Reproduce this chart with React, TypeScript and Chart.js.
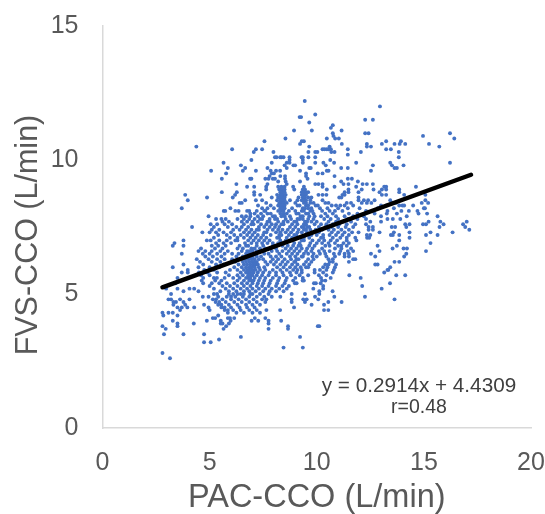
import React, { useEffect, useRef } from "react";
import { Chart, registerables } from "chart.js";

Chart.register(...registerables);

const SANS = '"Liberation Sans", Arial, sans-serif';
const equationLines = ["y = 0.2914x + 4.4309", "r=0.48"];
const xTitle = "PAC-CCO (L/min)";
const yTitle = "FVS-CCO (L/min)";
const trendX = [2.8, 17.2];
const trendY = [5.25, 9.45];

type Row = [number, number[]];

const bandTop: Row[] = [
  [12.2, [9.44]], [12.0, [12.95]], [11.7, [9.93]], [11.6, [9.2, 9.27]], [11.5, [12.26, 12.62]], [11.4, [9.65]],
  [11.3, [10.75]], [11.2, [10.66]], [11.1, [8.94, 9.77, 11.16]], [11.0, [10.75, 12.26, 12.42, 16.22]],
  [10.9, [10.78, 14.96]], [10.8, [8.54, 10.47, 10.86, 11.03, 16.42]], [10.7, [7.56, 9.3, 9.4, 13.24, 13.93]],
  [10.6, [9.22, 11.17, 12.34, 13.04, 13.63, 13.87, 14.13, 15.24]], [10.5, [4.38, 9.65, 10.6, 12.34, 12.53, 15.72]],
  [10.4, [6.05, 7.16, 7.45, 10.27, 10.36, 10.47, 10.55, 10.66, 11.45, 13.24, 13.46]],
  [10.3, [7.06, 7.98, 9.61, 9.93, 10.03, 10.68, 10.83, 12.06, 13.83]], [10.2, [11.45]],
  [10.1, [8.05, 8.12, 8.29, 8.35, 8.45, 8.73, 9.29, 9.35, 9.61, 9.93, 13.83]], [10.0, [6.95, 8.73, 9.35, 10.63]],
  [9.9, [5.65, 7.9, 8.6, 8.73, 9.35, 9.93, 10.31, 10.81, 11.84, 13.43, 16.22]],
  [9.8, [6.46, 8.5, 8.91, 8.99, 10.42, 12.62, 13.51, 14.05]],
  [9.7, [5.85, 6.66, 7.7, 8.6, 9.65, 9.72, 11.14, 11.45, 13.63, 13.74]],
  [9.6, [5.07, 6.55, 7.16, 7.85, 8.1, 8.29, 9.22, 10.47, 10.55, 12.53]], [9.5, [5.77, 7.9, 8.0, 9.5, 10.05, 10.27]],
  [9.4, [7.8, 8.3, 8.52, 9.5, 10.83]], [9.3, [5.57, 6.89, 6.95, 7.6, 7.75, 7.95, 8.05, 8.52, 9.57, 11.45, 11.64]],
  [9.2, [8.2, 8.55, 9.22, 11.14, 11.92]],
];

const bandUpper: Row[] = [
  [9.1, [6.25, 7.7, 8.6, 9.93, 10.08, 10.27, 11.25, 11.48, 12.14, 12.34, 12.62]],
  [9.0, [6.75, 7.08, 7.64, 8.2, 8.35, 8.5, 8.9, 9.4, 10.27, 10.83, 11.84, 13.15, 13.24, 14.63]],
  [8.9, [7.64, 8.25, 8.35, 8.5, 8.95, 9.35, 9.45, 10.47, 11.48, 12.1, 12.65, 13.04, 13.24, 13.85]],
  [8.8, [5.57, 6.27, 7.08, 8.3, 8.4, 8.5, 9.3, 9.4, 9.5, 9.6, 11.3, 11.48, 11.95, 12.93, 13.85]],
  [8.7, [3.86, 6.19, 7.08, 7.36, 8.15, 8.3, 8.4, 8.55, 9.3, 9.4, 9.5, 10.08, 10.27, 10.45, 11.2, 11.3, 13.04, 13.24, 14.08, 15.07]],
  [8.6, [4.88, 6.08, 7.9, 8.2, 8.3, 8.4, 8.5, 9.15, 9.35, 9.45, 9.6, 9.75, 11.05, 11.15, 11.95]],
  [8.5, [3.98, 6.66, 7.16, 7.45, 8.15, 8.3, 8.4, 8.5, 8.75, 9.1, 9.3, 9.4, 9.5, 9.7, 10.27, 11.95, 12.2, 12.4, 12.7, 13.43, 15.07]],
  [8.4, [6.4, 6.5, 7.64, 8.25, 8.35, 8.45, 8.6, 9.0, 9.4, 9.5, 9.7, 9.85, 10.4, 10.55, 11.4, 11.6, 12.1, 12.34, 12.55, 13.5, 13.7, 14.9, 15.2]],
  [8.3, [7.26, 7.85, 8.2, 8.3, 8.4, 8.5, 9.1, 9.2, 9.5, 9.6, 9.95, 10.05, 10.7, 10.9, 11.1, 11.3, 11.7, 13.0, 13.25, 13.85, 14.0, 14.08, 14.5]],
  [8.2, [3.7, 5.97, 7.45, 7.7, 8.0, 8.3, 8.4, 8.5, 8.85, 9.35, 9.45, 9.6, 9.75, 10.15, 10.5, 11.0, 11.45, 12.0, 12.85, 13.6, 15.0, 15.05]],
  [8.1, [5.66, 5.73, 6.2, 6.35, 6.75, 6.85, 7.2, 7.55, 7.6, 8.2, 8.35, 8.45, 8.7, 9.0, 9.3, 9.4, 9.7, 9.8, 10.25, 10.6, 10.85, 11.2, 12.3, 13.3, 13.95, 14.3, 14.7]],
  [8.0, [6.9, 7.1, 7.4, 7.7, 7.85, 8.3, 8.45, 8.6, 9.05, 9.15, 9.5, 9.6, 9.85, 10.4, 10.75, 11.5, 11.9, 12.7, 13.27, 13.74, 14.75, 15.15]],
  [7.9, [4.95, 6.5, 6.7, 6.9, 7.25, 7.5, 7.95, 8.05, 8.35, 8.5, 8.75, 9.25, 9.35, 9.65, 9.9, 10.2, 10.5, 10.9, 11.3, 11.7, 12.2, 13.0, 14.2, 15.64]],
  [7.8, [5.3, 5.55, 5.75, 6.3, 6.6, 6.85, 7.1, 7.35, 7.45, 7.8, 8.05, 8.15, 8.55, 8.8, 9.1, 9.2, 9.35, 9.6, 9.85, 10.35, 10.65, 11.0, 11.45, 11.9, 12.3, 13.3, 13.55, 13.9]],
];

const bandMiddle: Row[] = [
  [7.7, [5.6, 5.9, 6.5, 6.75, 7.0, 7.25, 7.7, 7.8, 8.2, 8.45, 8.65, 8.95, 9.05, 9.45, 9.55, 9.75, 10.0, 10.55, 10.9, 11.25, 11.6, 12.5, 13.0, 15.22, 15.77, 17.0]],
  [7.6, [5.05, 5.35, 5.7, 6.05, 6.6, 6.95, 7.05, 7.4, 7.65, 7.9, 8.1, 8.35, 8.45, 8.85, 9.1, 9.4, 9.5, 9.9, 10.2, 10.45, 10.75, 11.05, 11.4, 11.8, 12.3, 14.13, 14.33, 14.96, 15.1, 15.92, 16.83]],
  [7.5, [4.18, 5.2, 5.85, 6.25, 6.5, 6.8, 7.3, 7.55, 7.8, 8.05, 8.25, 8.75, 9.0, 9.3, 9.4, 9.55, 9.65, 10.1, 10.4, 10.7, 11.0, 11.35, 11.7, 12.42, 12.62, 13.5, 13.66, 14.18, 15.73, 16.93]],
  [7.4, [5.1, 5.45, 6.1, 6.4, 6.7, 6.95, 7.2, 7.3, 7.7, 7.95, 8.2, 8.4, 8.65, 8.9, 9.15, 9.4, 9.5, 9.7, 9.95, 10.25, 10.55, 10.8, 11.15, 11.5, 12.42, 12.62, 17.12]],
  [7.3, [4.66, 5.0, 5.3, 5.65, 6.0, 6.6, 6.85, 7.1, 7.55, 7.65, 8.1, 8.3, 8.55, 8.8, 9.1, 9.3, 9.55, 9.85, 10.1, 10.7, 11.0, 11.3, 11.65, 11.95, 12.93, 13.6, 14.33, 15.31, 16.34]],
  [7.2, [5.4, 5.8, 6.15, 6.45, 6.75, 7.0, 7.25, 7.5, 7.85, 8.25, 8.35, 8.7, 8.95, 9.05, 9.5, 9.75, 10.0, 10.3, 10.6, 10.9, 11.2, 11.5, 12.34, 12.5, 13.46, 13.55, 13.85, 15.1, 15.64]],
  [7.1, [5.2, 5.95, 6.3, 6.6, 6.9, 7.15, 7.4, 7.65, 8.15, 8.25, 8.6, 8.85, 9.1, 9.4, 9.65, 10.2, 10.3, 10.75, 11.1, 11.4, 11.8, 12.35, 12.45, 14.33]],
  [7.0, [3.78, 4.87, 5.05, 5.45, 5.8, 6.2, 6.3, 6.8, 7.05, 7.3, 7.55, 7.8, 8.3, 8.55, 8.75, 9.3, 9.4, 9.8, 10.1, 10.35, 10.65, 10.95, 11.4, 11.85, 13.85]],
  [6.9, [3.36, 5.3, 5.65, 6.0, 6.65, 6.95, 7.2, 7.45, 7.7, 7.95, 8.2, 8.45, 8.95, 9.2, 9.7, 10.0, 10.25, 10.55, 10.85, 11.25, 11.5, 15.31]],
  [6.8, [3.28, 3.78, 5.1, 5.4, 5.75, 6.4, 6.7, 6.8, 7.2, 7.5, 7.95, 8.05, 8.4, 8.65, 8.9, 9.15, 9.25, 9.65, 9.9, 10.4, 10.6, 11.0, 11.15, 11.4, 12.84, 13.74]],
  [6.7, [4.6, 5.25, 5.6, 6.3, 6.55, 6.95, 7.1, 7.35, 7.6, 7.85, 8.1, 8.55, 8.8, 9.05, 9.3, 9.55, 9.8, 10.25, 10.85, 11.15, 11.6, 13.54, 14.05, 14.21]],
  [6.6, [4.48, 4.8, 5.1, 5.5, 5.85, 6.5, 6.75, 6.85, 7.0, 7.2, 7.45, 7.9, 8.15, 8.4, 8.7, 8.95, 9.2, 9.5, 9.75, 10.1, 10.35, 10.6, 11.1, 11.45, 11.7, 12.93, 15.1]],
  [6.5, [3.7, 4.68, 5.0, 5.35, 5.7, 6.05, 6.35, 6.7, 6.8, 6.9, 7.1, 7.55, 7.75, 8.25, 8.6, 8.85, 9.1, 9.4, 9.6, 9.85, 10.15, 10.4, 10.8, 11.05, 11.3, 11.5, 12.53, 14.18]],
];

const bandLower: Row[] = [
  [6.4, [4.8, 5.15, 5.55, 6.25, 6.55, 6.75, 6.85, 7.0, 7.2, 7.4, 7.85, 8.1, 8.35, 8.75, 9.0, 9.3, 9.35, 9.8, 10.0, 10.45, 10.85, 11.3, 11.5, 12.73, 14.08]],
  [6.3, [4.4, 4.95, 5.35, 5.7, 6.05, 6.65, 6.8, 6.95, 7.1, 7.3, 7.5, 7.95, 8.2, 8.5, 8.8, 9.05, 9.15, 9.6, 9.85, 10.55, 10.75, 11.7, 11.8]],
  [6.2, [4.55, 5.1, 5.5, 6.2, 6.55, 6.7, 6.85, 7.0, 7.1, 7.2, 7.6, 7.85, 8.1, 8.4, 8.65, 8.95, 9.0, 9.5, 9.75, 10.6, 10.75, 11.5, 13.63, 13.85]],
  [6.1, [3.78, 4.7, 5.3, 5.65, 6.35, 6.6, 6.75, 6.9, 7.05, 7.15, 7.25, 7.7, 8.0, 8.3, 8.55, 8.85, 9.1, 9.4, 9.65, 10.4, 10.55, 10.9, 12.73, 12.84]],
  [6.0, [3.28, 4.48, 5.0, 5.45, 6.15, 6.5, 6.7, 6.85, 6.95, 7.1, 7.3, 7.55, 8.15, 8.45, 8.75, 9.0, 9.25, 9.5, 9.6, 10.3, 10.5, 10.85, 13.43]],
  [5.9, [3.98, 4.75, 5.2, 5.95, 6.3, 6.6, 6.75, 6.85, 7.0, 7.15, 7.35, 7.6, 7.95, 8.3, 8.6, 8.9, 9.1, 9.3, 9.9, 10.15, 10.45, 10.8, 13.3, 13.34]],
  [5.8, [3.7, 3.98, 4.5, 4.9, 5.35, 5.75, 6.45, 6.7, 6.8, 6.9, 7.05, 7.25, 7.5, 7.8, 8.1, 8.4, 8.75, 9.05, 9.3, 9.9, 10.3, 10.75, 13.15]],
  [5.7, [4.6, 5.0, 5.9, 6.3, 6.55, 6.8, 6.9, 7.0, 7.2, 7.45, 7.75, 8.1, 8.45, 8.8, 9.2, 9.6, 10.1, 10.45, 11.52, 13.71, 14.13]],
  [5.6, [3.5, 4.7, 5.2, 5.34, 5.7, 6.1, 6.4, 6.7, 6.8, 6.9, 7.1, 7.35, 7.6, 7.95, 8.25, 8.6, 9.0, 9.35, 10.2, 10.65, 12.05]],
  [5.5, [4.63, 5.26, 5.55, 6.3, 6.6, 6.85, 6.95, 7.05, 7.3, 7.55, 7.85, 8.2, 8.55, 8.9, 9.34, 9.4, 10.25, 10.4]],
  [5.4, [3.4, 4.7, 5.1, 5.45, 5.8, 6.15, 6.5, 6.75, 7.0, 7.25, 7.5, 7.8, 8.15, 8.5, 8.98, 9.06, 9.87, 9.96, 10.18, 13.42]],
  [5.3, [5.0, 5.6, 5.95, 6.3, 6.6, 6.9, 7.2, 7.45, 7.75, 8.1, 8.4, 8.7, 10.3, 12.12]],
  [5.2, [2.97, 3.5, 4.06, 4.28, 5.2, 5.75, 6.1, 6.45, 6.75, 7.0, 7.3, 7.6, 7.9, 8.25, 8.6, 9.84, 10.3, 13.03]],
];

const bandBottom: Row[] = [
  [5.1, [3.78, 4.48, 5.5, 5.9, 6.25, 6.6, 6.85, 7.15, 7.5, 7.8, 8.1, 8.45, 10.12, 10.74]],
  [5.0, [3.2, 5.2, 5.35, 5.9, 6.1, 6.3, 6.45, 6.6, 6.9, 7.0, 7.35, 7.75, 8.83, 9.45, 10.12]],
  [4.9, [4.68, 4.95, 5.4, 5.8, 6.0, 6.2, 6.55, 6.85, 7.2, 7.55, 7.9, 8.3, 9.92, 10.82, 12.25]],
  [4.8, [3.08, 3.2, 3.62, 4.06, 5.15, 5.3, 5.6, 6.0, 6.35, 6.7, 7.05, 7.45, 7.65, 8.83, 9.37, 9.53, 10.07, 13.63]],
  [4.7, [3.31, 3.43, 3.78, 5.28, 5.45, 5.75, 6.15, 6.5, 6.85, 7.2, 7.6, 8.83, 9.45, 10.54, 11.16]],
  [4.6, [3.31, 3.86, 4.74, 5.4, 5.55, 5.9, 6.3, 6.7, 7.0, 7.35, 9.76, 10.34]],
  [4.5, [3.5, 3.7, 3.96, 4.28, 4.95, 5.55, 5.7, 6.0, 6.4, 6.75, 7.1, 8.94]],
  [4.4, [3.62, 5.0, 5.7, 5.85, 6.1, 6.45, 6.85, 7.2, 7.65, 8.29, 10.34, 10.54]],
  [4.3, [2.8, 3.08, 3.28, 5.85, 6.25, 6.6, 7.0, 7.35]], [4.2, [2.84, 3.5, 5.4]],
  [4.1, [5.15, 5.26, 5.85, 5.95, 6.15, 7.11, 7.6]], [4.0, [3.28, 4.87, 5.52, 5.98, 6.96, 7.27, 7.75, 8.34]],
  [3.9, [3.5, 4.26, 5.52, 5.6, 5.9, 7.75]], [3.8, [2.8, 3.5, 5.77, 8.66, 10.05, 10.12]],
  [3.7, [2.95, 5.65, 7.75, 8.66]], [3.5, [2.87, 3.78, 4.74]], [3.4, [6.46, 9.22]], [3.3, [5.44]], [3.2, [4.74, 5.05]],
  [3.0, [8.45, 9.35]], [2.8, [2.8]], [2.6, [3.15]],
];

const points = [...bandTop, ...bandUpper, ...bandMiddle, ...bandLower, ...bandBottom].flatMap(([y, xs]) =>
  xs.map((x) => ({ x, y }))
);

const annotationPlugin = {
  id: "annotationText",
  afterDatasetsDraw(chart: any) {
    const { ctx, scales } = chart;
    ctx.save();
    ctx.fillStyle = "#404040";
    ctx.textAlign = "center";
    ctx.textBaseline = "middle";
    ctx.font = `20.7px ${SANS}`;
    ctx.fillText(equationLines[0], scales.x.getPixelForValue(14.77), scales.y.getPixelForValue(1.57));
    ctx.font = `19.5px ${SANS}`;
    ctx.fillText(equationLines[1], scales.x.getPixelForValue(14.77), scales.y.getPixelForValue(0.76));
    ctx.fillStyle = "#595959";
    ctx.font = `30.5px ${SANS}`;
    ctx.translate(29, scales.y.getPixelForValue(7.2));
    ctx.rotate(-Math.PI / 2);
    ctx.fillText(yTitle, 0, 0);
    ctx.restore();
  },
};

export default function App() {
  const ref = useRef<HTMLCanvasElement>(null);
  useEffect(() => {
    document.body.style.margin = "0";
    const chart = new Chart(ref.current!, {
      type: "scatter",
      data: {
        datasets: [
          {
            data: points,
            backgroundColor: "#4472C4",
            borderWidth: 0,
            pointRadius: 1.95,
            order: 2,
          },
          {
            type: "line",
            data: trendX.map((x, i) => ({ x, y: trendY[i] })),
            borderColor: "#000000",
            borderWidth: 4.5,
            borderCapStyle: "round",
            pointRadius: 0,
            order: 1,
          },
        ],
      } as any,
      options: {
        animation: false,
        responsive: false,
        layout: { padding: { top: 26, right: 14, left: 0, bottom: 0 } },
        plugins: { legend: { display: false }, tooltip: { enabled: false } },
        scales: {
          x: {
            type: "linear",
            min: 0,
            max: 20,
            afterFit: (s: any) => {
              s.height = 86;
              s.paddingRight = 0;
              s.paddingLeft = 0;
            },
            grid: { display: false, drawTicks: false },
            border: { color: "#d9d9d9", width: 1.5 },
            ticks: {
              stepSize: 5,
              padding: 20,
              maxRotation: 0,
              color: "#595959",
              font: { family: SANS, size: 25 },
            },
            title: {
              display: true,
              text: xTitle,
              color: "#595959",
              font: { family: SANS, size: 32.5, lineHeight: 1 },
              padding: { top: 0, bottom: 0 },
            },
          },
          y: {
            type: "linear",
            min: 0,
            max: 15,
            afterFit: (s: any) => {
              s.width = 102.5;
              s.paddingTop = 0;
              s.paddingBottom = 0;
            },
            grid: { display: false, drawTicks: false },
            border: { color: "#d9d9d9", width: 1.5 },
            ticks: {
              stepSize: 5,
              padding: 24,
              color: "#595959",
              font: { family: SANS, size: 25 },
            },
          },
        },
      },
      plugins: [annotationPlugin],
    } as any);
    return () => chart.destroy();
  }, []);
  return <canvas ref={ref} width={545} height={514} style={{ display: "block", filter: "blur(0.4px)" }} />;
}
